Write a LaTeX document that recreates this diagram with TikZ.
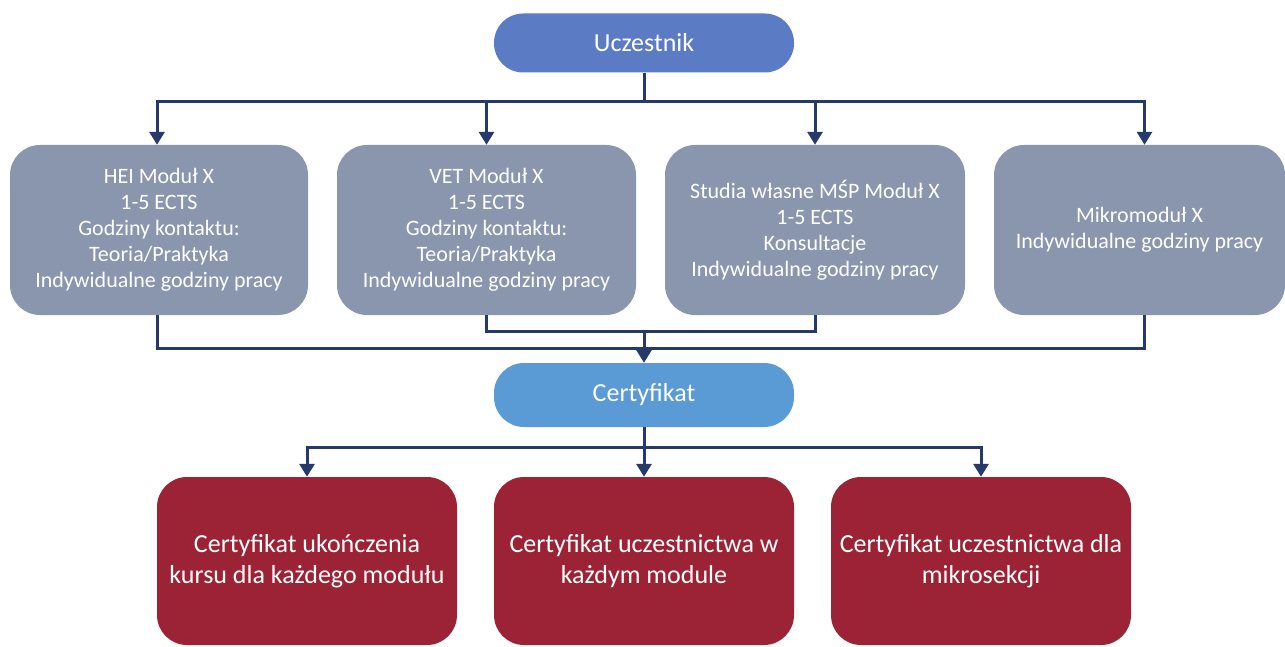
\documentclass[tikz,border=0pt]{standalone}
\usepackage{fontspec}
\setmainfont{Carlito}
\usetikzlibrary{arrows.meta}
\definecolor{topblue}{RGB}{91,123,196}
\definecolor{modgray}{RGB}{138,150,174}
\definecolor{certblue}{RGB}{91,155,213}
\definecolor{certred}{RGB}{155,35,53}
\definecolor{linknavy}{RGB}{37,57,107}
\tikzset{
  pill/.style={draw=none, rounded corners=29pt, minimum width=300pt, text=white, align=center, font=\fontsize{26}{30}\selectfont},
  modbox/.style={fill=modgray, draw=none, rounded corners=30pt, minimum height=170pt, text=white, align=center, font=\fontsize{22}{26}\selectfont},
  redbox/.style={fill=certred, draw=none, rounded corners=30pt, minimum width=300pt, minimum height=168pt, text=white, align=center, font=\fontsize{26}{30.5}\selectfont},
  link/.style={draw=linknavy, line width=3pt},
  flow/.style={link, -{Triangle[width=15pt,length=13pt]}},
}
\begin{document}
\begin{tikzpicture}[x=1pt, y=-1pt]
\useasboundingbox (0,0) rectangle (1285,647);

% top participant node
\node[pill, fill=topblue, minimum height=59pt] (U) at (644,43) {Uczestnik};

% module boxes
\node[modbox, minimum width=298pt] (m1) at (159,230) {HEI Moduł X\\1-5 ECTS\\Godziny kontaktu:\\Teoria/Praktyka\\Indywidualne godziny pracy};
\node[modbox, minimum width=299pt] (m2) at (486.5,230) {VET Moduł X\\1-5 ECTS\\Godziny kontaktu:\\Teoria/Praktyka\\Indywidualne godziny pracy};
\node[modbox, minimum width=300pt] (m3) at (815,230) {Studia własne MŚP Moduł X\\1-5 ECTS\\Konsultacje\\Indywidualne godziny pracy};
\node[modbox, minimum width=291pt] (m4) at (1139.5,230) {Mikromoduł X\\Indywidualne godziny pracy};

% certificate node
\node[pill, fill=certblue, minimum height=64pt, rounded corners=30pt] (C) at (644,395) {Certyfikat};

% certificate kinds
\node[redbox] (r1) at (307,561) {Certyfikat ukończenia\\kursu dla każdego modułu};
\node[redbox] (r2) at (644,561) {Certyfikat uczestnictwa w\\każdym module};
\node[redbox] (r3) at (981,561) {Certyfikat uczestnictwa dla\\mikrosekcji};

% junction points
\coordinate (topbus) at (644,102);
\coordinate (midjoin) at (644,331);
\coordinate (lowbus) at (644,447);

% participant to modules
\draw[link] (U.south) -- (topbus);
\draw[flow] (topbus) -| ([xshift=-2pt]m1.north);
\draw[flow] (topbus) -| (m2.north);
\draw[flow] (topbus) -| (m3.north);
\draw[flow] (topbus) -| ([xshift=5pt]m4.north);

% modules to certificate
\draw[link] ([xshift=-2pt]m1.south) -- ++(0,33) -| ([xshift=5pt]m4.south);
\draw[link] (m2.south) |- (midjoin) -| (m3.south);
\draw[flow] (midjoin) -- (C.north);

% certificate to kinds
\draw[link] (C.south) -- (lowbus);
\draw[flow] (lowbus) -| (r1.north);
\draw[flow] (lowbus) -- (r2.north);
\draw[flow] (lowbus) -| (r3.north);
\end{tikzpicture}
\end{document}
